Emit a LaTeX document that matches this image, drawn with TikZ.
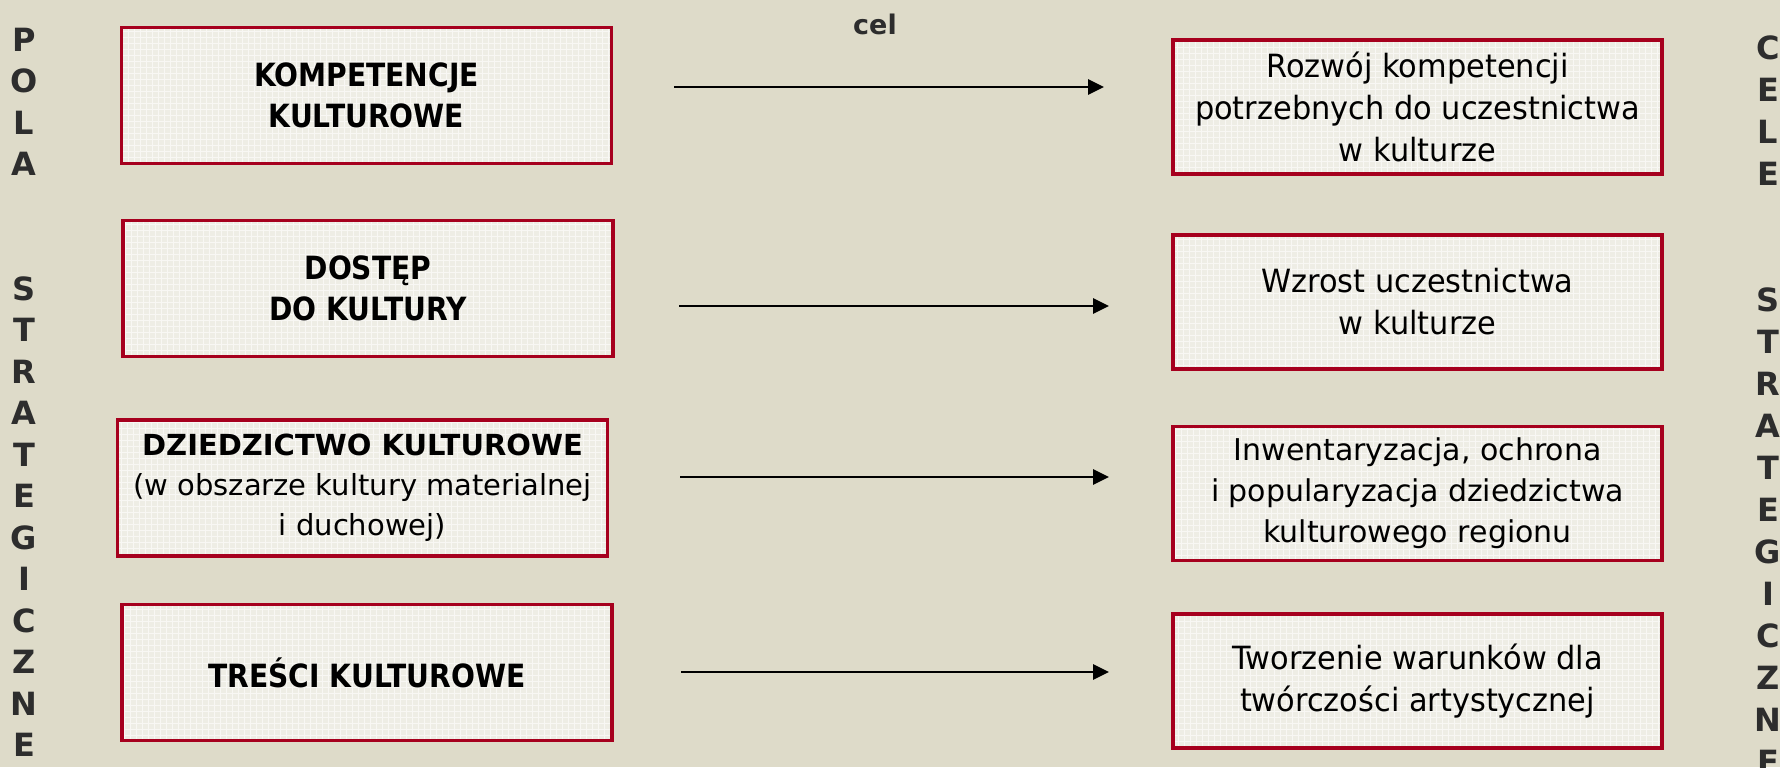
\documentclass[tikz,border=0pt]{standalone}
\usepackage{fontspec}
\setmainfont{DejaVu Sans}
\newfontfamily\condfont[FakeStretch=0.95]{DejaVu Sans}
\newfontfamily\capsfont[FakeStretch=0.88]{DejaVu Sans}
\usetikzlibrary{arrows.meta}
\definecolor{tlo}{RGB}{222,219,201}
\definecolor{ramka}{RGB}{166,0,30}
\definecolor{wnetrze}{RGB}{238,237,229}
\definecolor{napis}{RGB}{45,45,45}

\begin{document}
\begin{tikzpicture}[x=0.5pt,y=-0.5pt,
    polebox/.style={draw=ramka, line width=1.75pt, fill=wnetrze, align=center,
      inner sep=0pt, minimum width=245pt, minimum height=68pt,
      path picture={\draw[white, line width=0.25pt, opacity=0.6]
        (path picture bounding box.south west) grid[step=3pt]
        (path picture bounding box.north east);}},
    celbox/.style={polebox, minimum width=244.5pt, minimum height=67pt},
    tytul/.style={font={\capsfont\fontsize{16}{20.5}\selectfont\bfseries}},
    opis/.style={font={\condfont\fontsize{16}{21}\selectfont}},
    litera/.style={font={\fontsize{16}{16}\selectfont\bfseries}, text=napis, inner sep=0pt},
    strz/.style={-{Triangle[length=8pt,width=7.5pt]}, line width=1.4pt}]
  \fill[tlo] (0,0) rectangle (1780,767);
  \useasboundingbox (0,0) rectangle (1780,767);

  % pola strategiczne
  \node[polebox, tytul] (k1) at (366.5,95.5) {KOMPETENCJE\\KULTUROWE};
  \node[polebox, tytul] (k2) at (368,288.5) {DOSTĘP\\DO KULTURY};
  \node[polebox, font={\fontsize{14.5}{20}\selectfont}] (k3) at (362.5,488)
    {\textbf{DZIEDZICTWO KULTUROWE}\\(w obszarze kultury materialnej\\i duchowej)};
  \node[polebox, tytul] (k4) at (367,672.5) {TREŚCI KULTUROWE};

  % cele strategiczne
  \node[celbox, opis] (c1) at (1417.5,107) {Rozwój kompetencji\\potrzebnych do uczestnictwa\\w kulturze};
  \node[celbox, opis] (c2) at (1417.5,302) {Wzrost uczestnictwa\\w kulturze};
  \node[celbox, font={\fontsize{15}{20.5}\selectfont}] (c3) at (1417.5,493.5)
    {Inwentaryzacja, ochrona\\i popularyzacja dziedzictwa\\kulturowego regionu};
  \node[celbox, opis] (c4) at (1417.5,681) {Tworzenie warunków dla\\twórczości artystycznej};

  \node[litera, font={\fontsize{13.5}{13.5}\selectfont\bfseries}] (cel) at (875,24) {cel};

  % strzalki
  \coordinate (s1) at (674,87);  \coordinate (e1) at (1104,87);
  \coordinate (s2) at (679,306); \coordinate (e2) at (1109,306);
  \coordinate (s3) at (680,477); \coordinate (e3) at (1109,477);
  \coordinate (s4) at (681,672); \coordinate (e4) at (1109,672);
  \draw[strz] (s1) -- (e1);
  \draw[strz] (s2) -- (e2);
  \draw[strz] (s3) -- (e3);
  \draw[strz] (s4) -- (e4);

  % napisy pionowe
  \foreach \z/\n in {P/0,O/1,L/2,A/3,S/6,T/7,R/8,A/9,T/10,E/11,G/12,I/13,C/14,Z/15,N/16,E/17}
    \node[litera] (pl\n) at (24,{39.5+41.5*\n}) {\z};
  \foreach \z/\n in {C/0,E/1,L/2,E/3,S/6,T/7,R/8,A/9,T/10,E/11,G/12,I/13,C/14,Z/15,N/16,E/17}
    \node[litera] (pr\n) at (1768,{48+42*\n}) {\z};
\end{tikzpicture}
\end{document}
